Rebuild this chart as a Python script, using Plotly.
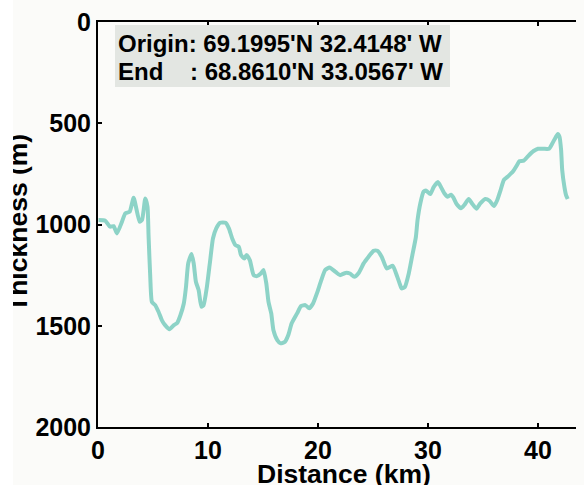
import plotly.graph_objects as go

distance_km = [
    0.05, 0.66, 1.1, 1.42, 1.72, 2.18, 2.48, 2.88, 3.24, 3.78,
    4.0, 4.3, 4.5, 4.6, 4.75, 4.9, 5.2, 5.5, 5.8, 6.1,
    6.5, 6.9, 7.2, 7.5, 7.8, 8.0, 8.2, 8.5, 8.7, 8.9,
    9.15, 9.4, 9.6, 9.9, 10.2, 10.45, 10.75, 11.1, 11.6, 11.9,
    12.2, 12.5, 12.8, 13.0, 13.3, 13.5, 13.8, 14.15, 14.45, 14.8,
    15.05, 15.3, 15.5, 15.75, 15.95, 16.3, 16.6, 17.0, 17.3, 17.6,
    18.1, 18.45, 18.85, 19.2, 19.55, 19.9, 20.3, 20.65, 21.05, 21.6,
    22.0, 22.5, 22.9, 23.3, 23.7, 24.15, 24.6, 25.05, 25.4, 25.8,
    26.25, 26.8, 27.1, 27.4, 27.6, 27.9, 28.25, 28.55, 28.9, 29.05,
    29.3, 29.6, 29.85, 30.2, 30.5, 30.9, 31.2, 31.5, 31.8, 32.1,
    32.3, 32.6, 33.0, 33.3, 33.7, 34.0, 34.4, 34.75, 35.2, 35.6,
    36.0, 36.3, 36.6, 36.9, 37.3, 37.7, 38.1, 38.3, 38.7, 39.1,
    39.6, 40.0, 40.5, 41.0, 41.3, 41.6, 41.8, 41.95, 42.1, 42.2,
    42.4, 42.55, 42.7,
]
thickness_m = [
    978, 981, 1011, 1008, 1044, 986, 945, 937, 868, 986,
    978, 871, 912, 1061, 1258, 1382, 1398, 1431, 1472, 1497,
    1517, 1497, 1486, 1447, 1390, 1308, 1192, 1146, 1192, 1283,
    1324, 1406, 1398, 1308, 1176, 1069, 1019, 991, 991, 1019,
    1069, 1102, 1110, 1151, 1168, 1151, 1176, 1250, 1255, 1242,
    1225, 1291, 1382, 1439, 1522, 1571, 1587, 1579, 1546, 1489,
    1439, 1403, 1398, 1414, 1390, 1340, 1275, 1225, 1212, 1234,
    1250, 1239, 1242, 1258, 1239, 1192, 1159, 1130, 1130, 1160,
    1217, 1204, 1242, 1288, 1316, 1308, 1242, 1159, 1061, 978,
    896, 838, 833, 850, 817, 790, 817, 847, 863, 853,
    866, 899, 920, 904, 874, 896, 922, 896, 874, 883,
    909, 879, 830, 780, 761, 740, 706, 687, 685, 662,
    637, 626, 626, 626, 600, 570, 553, 566, 632, 731,
    814, 855, 874,
]
assert len(distance_km) == len(thickness_m)

x_ticks = [0, 10, 20, 30, 40]
y_ticks = [0, 500, 1000, 1500, 2000]
x_title = "Distance (km)"
y_title = "Thickness (m)"
info_lines = ["Origin: 69.1995'N 32.4148' W", "End    : 68.8610'N 33.0567' W"]

BG = "#fbfbf9"
# page has an 8px body margin; figure sized so the plot area reaches the window edge
OFF = 8
W, H = 576, 477
L, R, T, B = 90, 0, 14, 58
PW, PH = W - L - R, H - T - B
FONT = "Liberation Sans, Arial, sans-serif"


def px_x(p):  # page pixel -> paper x
    return (p - OFF - L) / PW


def px_y(p):  # page pixel -> paper y
    return (H - B - (p - OFF)) / PH


fig = go.Figure()
fig.add_trace(go.Scatter(
    x=distance_km, y=thickness_m, mode="lines",
    line=dict(color="#8dd3c7", width=4, shape="spline", smoothing=0.5),
    showlegend=False, hoverinfo="skip",
))

fig.update_layout(
    width=W, height=H,
    margin=dict(l=L, r=R, t=T, b=B, autoexpand=False),
    paper_bgcolor=BG, plot_bgcolor=BG,
    font=dict(family=FONT, size=25, color="black"),
    xaxis=dict(
        range=[0, PW / 11.0], tickvals=x_ticks, ticks="inside", ticklen=4,
        tickwidth=1.5, tickcolor="black",
        showline=True, linecolor="black", linewidth=2, mirror="ticks",
        showgrid=False, zeroline=False,
        tickfont=dict(family=FONT, size=25, weight="bold"),
        ticklabelstandoff=0, ticklabeloverflow="allow",
        automargin=False,
    ),
    yaxis=dict(
        range=[2000, 0], tickvals=y_ticks, ticks="inside", ticklen=4,
        tickwidth=1.5, tickcolor="black",
        showline=True, linecolor="black", linewidth=2, mirror=False,
        showgrid=False, zeroline=False,
        tickfont=dict(family=FONT, size=25, weight="bold"),
        ticklabelstandoff=0, ticklabeloverflow="allow",
        automargin=False,
    ),
)

# axis titles (placed as annotations so they can sit partly past the edges)
fig.add_annotation(
    xref="paper", yref="paper", x=px_x(344), y=px_y(474),
    xanchor="center", yanchor="middle", showarrow=False,
    text="<b>" + x_title + "</b>", font=dict(family=FONT, size=26.5, color="black"),
)
fig.add_annotation(
    xref="paper", yref="paper", x=px_x(18), y=px_y(223),
    xanchor="center", yanchor="middle", showarrow=False, textangle=-90,
    text="<b>" + y_title + "</b>", font=dict(family=FONT, size=26.5, color="black"),
)
# white strip along the left edge (crop edge in the reference)
fig.add_annotation(
    xref="paper", yref="paper", x=px_x(OFF), y=px_y(OFF),
    xanchor="left", yanchor="top", showarrow=False, text=" ",
    width=5, height=H, bgcolor="#ffffff", borderpad=0, borderwidth=0,
)

# info box
fig.add_shape(
    type="rect", xref="paper", yref="paper",
    x0=px_x(115), x1=px_x(450), y0=px_y(87), y1=px_y(25),
    fillcolor="#e3e6e2", line=dict(width=0), layer="above",
)
for txt, yc in zip(info_lines, [43.5, 71.5]):
    fig.add_annotation(
        xref="paper", yref="paper", x=px_x(117), y=px_y(yc),
        xanchor="left", yanchor="middle", align="left",
        text="<b>" + txt + "</b>", showarrow=False, borderpad=0,
        font=dict(family=FONT, size=24, color="black"),
    )

fig.write_html(
    "out.html",
    post_script="document.body.style.background="
                "'linear-gradient(to right, #ffffff 13px, " + BG + " 13px)';",
)
